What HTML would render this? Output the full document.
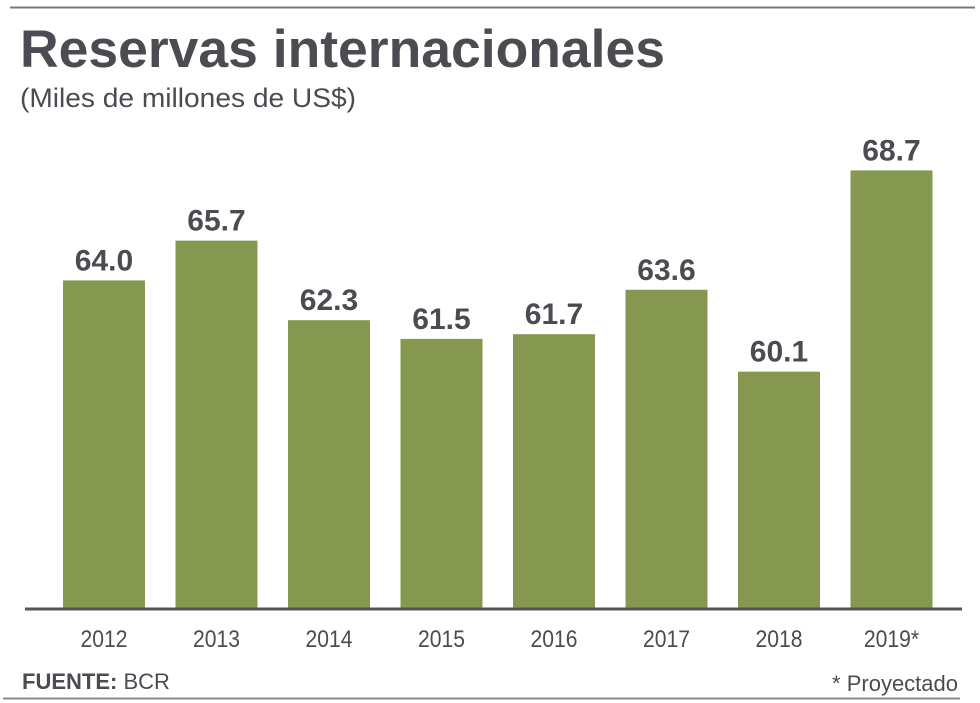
<!DOCTYPE html>
<html><head><meta charset="utf-8"><style>
body{margin:0;background:#fff;width:980px;height:703px;overflow:hidden;font-family:"Liberation Sans",sans-serif;color:#4a4c52}
svg{display:block}
</style></head><body>
<svg width="980" height="703">
<line x1="10" y1="7.5" x2="975" y2="7.5" stroke="#777" stroke-width="2"/>
<text x="20" y="67" font-size="53" font-weight="bold" fill="#4a4c52" textLength="645" lengthAdjust="spacingAndGlyphs">Reservas internacionales</text>
<text x="20" y="107" font-size="27" fill="#4a4c52" textLength="336" lengthAdjust="spacingAndGlyphs">(Miles de millones de US$)</text>
<g id="bars"></g>
<line x1="25" y1="609" x2="962" y2="609" stroke="#555" stroke-width="3"/>
<text x="22" y="689" font-size="22" fill="#4a4c52"><tspan font-weight="bold">FUENTE:</tspan> BCR</text>
<text x="958" y="691" font-size="22" text-anchor="end" fill="#4a4c52">* Proyectado</text>
<line x1="3" y1="698.5" x2="960" y2="698.5" stroke="#888" stroke-width="2"/>
</svg>
<script>
const categories=["2012","2013","2014","2015","2016","2017","2018","2019*"];
const values=[64.0,65.7,62.3,61.5,61.7,63.6,60.1,68.7];
const valueLabels=["64.0","65.7","62.3","61.5","61.7","63.6","60.1","68.7"];
const NS="http://www.w3.org/2000/svg";
const g=document.getElementById("bars");
const base=609, ppu=23.4, vmin=50;
function yScale(v){return base-(v-vmin)*ppu;}
function xScale(i){return 63+i*112.5;}
const bw=82;
categories.forEach((c,i)=>{
  const x=xScale(i), y=yScale(values[i]);
  const r=document.createElementNS(NS,"rect");
  r.setAttribute("x",x);r.setAttribute("y",y-1);r.setAttribute("width",bw);r.setAttribute("height",base-y+1);
  r.setAttribute("fill","#86984f");
  
  
  g.appendChild(r);
  const t=document.createElementNS(NS,"text");
  t.setAttribute("x",x+bw/2);t.setAttribute("y",y-11);t.setAttribute("text-anchor","middle");
  t.setAttribute("font-size","30");t.setAttribute("font-weight","bold");t.setAttribute("fill","#4a4c52");
  t.textContent=valueLabels[i];
  
  
  g.appendChild(t);
  const l=document.createElementNS(NS,"text");
  l.setAttribute("x",x+bw/2);l.setAttribute("y",647);l.setAttribute("text-anchor","middle");
  l.setAttribute("font-size","24");l.setAttribute("fill","#4a4c52");
  l.setAttribute("transform","translate("+(x+bw/2)+",0) scale(0.88,1) translate("+(-(x+bw/2))+",0)");
  l.textContent=c;
  
  
  g.appendChild(l);
});
</script>
</body></html>
